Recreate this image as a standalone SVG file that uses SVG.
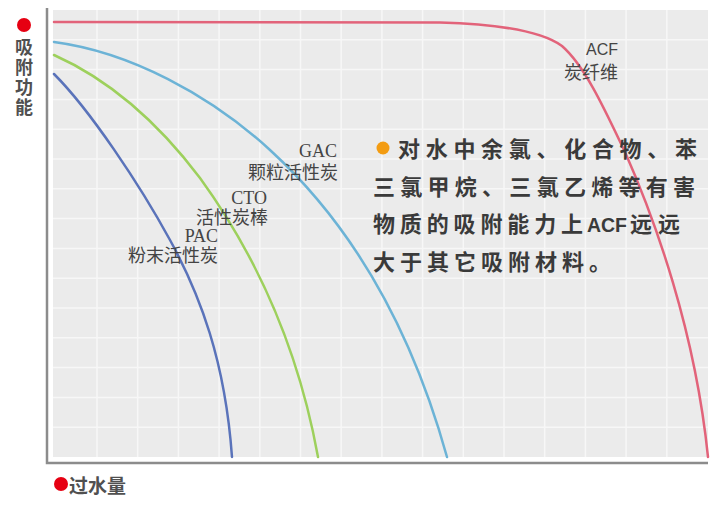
<svg xmlns="http://www.w3.org/2000/svg" width="720" height="507" viewBox="0 0 720 507">
<style>
.grid line{stroke:#f7f7f7;stroke-width:1.5}
.axis{stroke:#8c8c8c;stroke-width:2.5;fill:none}
.curve{fill:none;stroke-width:2.5;stroke-linecap:round}
.ax{font-family:"Noto Sans CJK SC","Noto Sans",sans-serif;font-weight:bold;font-size:19px;fill:#505050}
.axv{font-family:"Noto Sans CJK SC","Noto Sans",sans-serif;font-weight:bold;font-size:18px;fill:#505050;writing-mode:vertical-rl;letter-spacing:2px}
.lbl{font-size:18px;fill:#444;text-anchor:end}
.lat{font-family:"Liberation Serif","Noto Sans CJK SC",serif}
.cjk{font-family:"Noto Sans CJK SC",sans-serif}
.acf{font-family:"Liberation Sans","Noto Sans CJK SC",sans-serif;font-size:16px}
.main{font-family:"Noto Sans CJK SC",sans-serif;font-weight:bold;font-size:22px;fill:#3a3a3a}
.mainl{font-family:"Liberation Sans","Noto Sans CJK SC",sans-serif;font-weight:bold;font-size:21px;fill:#3a3a3a}
.dot{fill:#e60012}
</style>
<rect width="720" height="507" fill="#ffffff"/>
<g id="plot">
<rect x="53" y="10" width="655" height="447" fill="#ebebeb"/>
<g class="grid">
<line x1="97" y1="10" x2="97" y2="457"/><line x1="137.7" y1="10" x2="137.7" y2="457"/><line x1="178.4" y1="10" x2="178.4" y2="457"/><line x1="219.1" y1="10" x2="219.1" y2="457"/><line x1="259.8" y1="10" x2="259.8" y2="457"/><line x1="300.5" y1="10" x2="300.5" y2="457"/><line x1="341.2" y1="10" x2="341.2" y2="457"/><line x1="381.9" y1="10" x2="381.9" y2="457"/><line x1="422.6" y1="10" x2="422.6" y2="457"/><line x1="463.3" y1="10" x2="463.3" y2="457"/><line x1="504" y1="10" x2="504" y2="457"/><line x1="544.7" y1="10" x2="544.7" y2="457"/><line x1="585.4" y1="10" x2="585.4" y2="457"/><line x1="626.1" y1="10" x2="626.1" y2="457"/><line x1="666.8" y1="10" x2="666.8" y2="457"/>
<line x1="53" y1="39.8" x2="708" y2="39.8"/><line x1="53" y1="69.6" x2="708" y2="69.6"/><line x1="53" y1="99.4" x2="708" y2="99.4"/><line x1="53" y1="129.2" x2="708" y2="129.2"/><line x1="53" y1="159" x2="708" y2="159"/><line x1="53" y1="188.8" x2="708" y2="188.8"/><line x1="53" y1="218.6" x2="708" y2="218.6"/><line x1="53" y1="248.4" x2="708" y2="248.4"/><line x1="53" y1="278.2" x2="708" y2="278.2"/><line x1="53" y1="308" x2="708" y2="308"/><line x1="53" y1="337.8" x2="708" y2="337.8"/><line x1="53" y1="367.6" x2="708" y2="367.6"/><line x1="53" y1="397.4" x2="708" y2="397.4"/><line x1="53" y1="427.2" x2="708" y2="427.2"/>
</g>
<path class="axis" d="M47,8 V463 H708"/>
</g>
<g id="connectors">
<path id="acf-curve" class="curve" stroke="#e2637a" d="M54,22 L440,22.5 C495,24 540,30 562,46 C585,66 605,110 625,152 C655,220 695,330 708,457"/>
<path id="gac-curve" class="curve" stroke="#6cb3d6" d="M54,42 C130,52 210,95 270,150 C330,205 402,295 447,457"/>
<path id="cto-curve" class="curve" stroke="#9dd05c" d="M54,55 C110,80 160,125 200,178 C245,240 295,330 318,457"/>
<path id="pac-curve" class="curve" stroke="#5a73ba" d="M54,74 C90,110 140,185 170,240 C200,295 225,360 232,457"/>
</g>
<g id="label-acf">
<text class="lbl cjk"><tspan class="acf" x="618" y="55">ACF</tspan><tspan x="618" y="79">炭纤维</tspan></text>
</g>
<g id="label-gac">
<text class="lbl cjk"><tspan class="lat" x="337" y="157">GAC</tspan><tspan x="338" y="179">颗粒活性炭</tspan></text>
</g>
<g id="label-cto">
<text class="lbl cjk"><tspan class="lat" x="267" y="204">CTO</tspan><tspan x="268" y="224">活性炭棒</tspan></text>
</g>
<g id="label-pac">
<text class="lbl cjk"><tspan class="lat" x="218" y="242">PAC</tspan><tspan x="218" y="262">粉末活性炭</tspan></text>
</g>
<g id="note">
<circle cx="383" cy="148" r="6.5" fill="#f39c12"/>
<text class="main" x="398" y="157" textLength="299" lengthAdjust="spacing">对水中余氯、化合物、苯</text>
<text class="main" x="373" y="195" textLength="322" lengthAdjust="spacing">三氯甲烷、三氯乙烯等有害</text>
<text class="main" x="373" y="232" textLength="210" lengthAdjust="spacing">物质的吸附能力上</text>
<text class="mainl" x="587" y="232" textLength="40" lengthAdjust="spacingAndGlyphs">ACF</text>
<text class="main" x="630" y="232" textLength="50" lengthAdjust="spacing">远远</text>
<text class="main" x="373" y="270" textLength="238" lengthAdjust="spacing">大于其它吸附材料。</text>
</g>
<g id="y-label">
<circle class="dot" cx="24" cy="25" r="7"/>
<text class="axv" x="24" y="38">吸附功能</text>
</g>
<g id="x-label">
<circle class="dot" cx="61" cy="484" r="7"/>
<text class="ax" x="69" y="493">过水量</text>
</g>
</svg>
